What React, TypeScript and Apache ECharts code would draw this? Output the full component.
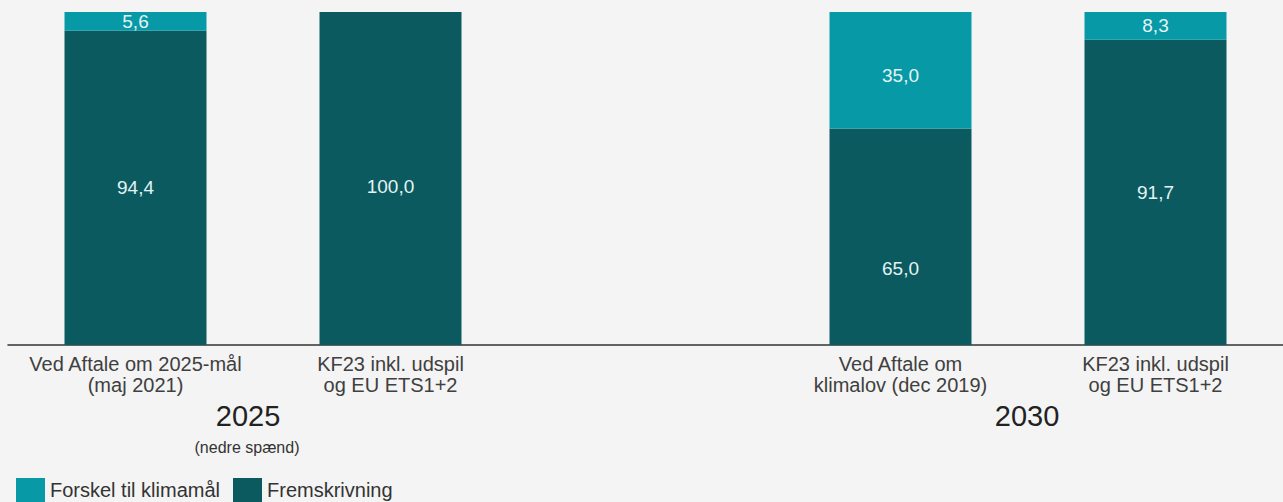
import React, { useEffect, useRef } from "react";
import * as echarts from "echarts";

const categories = [
  "Ved Aftale om 2025-mål\n(maj 2021)",
  "KF23 inkl. udspil\nog EU ETS1+2",
  "",
  "Ved Aftale om\nklimalov (dec 2019)",
  "KF23 inkl. udspil\nog EU ETS1+2",
];
const fremskrivning: (number | null)[] = [94.4, 100.0, null, 65.0, 91.7];
const forskel: (number | null)[] = [5.6, null, null, 35.0, 8.3];
const seriesNames = ["Forskel til klimamål", "Fremskrivning"];
const groupLabels = ["2025", "2030"];
const groupSub = "(nedre spænd)";

const LIGHT = "#0899a6";
const DARK = "#0b5a60";
const FONT = "Liberation Sans, Arial, sans-serif";

const fmt = (v: number) => v.toFixed(1).replace(".", ",");

export default function App() {
  const ref = useRef<HTMLDivElement>(null);
  useEffect(() => {
    if (!ref.current) return;
    const chart = echarts.init(ref.current, null, { renderer: "svg" });
    const labelStyle = {
      show: true,
      position: "inside",
      color: "#e4f3f3",
      fontSize: 19,
      fontFamily: FONT,
      formatter: (p: any) => fmt(p.value),
    };
    const darkOffsets: Record<number, number[]> = { 1: [0, 8], 3: [0, 32] };
    const lightOffsets: Record<number, number[]> = { 3: [0, 5] };
    chart.setOption({
      animation: false,
      backgroundColor: "#f4f4f4",
      grid: { left: 8, right: 0, top: 12, bottom: 157, containLabel: false },
      legend: {
        data: seriesNames,
        left: 16,
        top: 478,
        padding: 0,
        itemWidth: 29,
        itemHeight: 24,
        itemGap: 13,
        icon: "rect",
        textStyle: {
          fontSize: 20,
          color: "#333333",
          fontFamily: FONT,
        },
      },
      xAxis: {
        type: "category",
        data: categories,
        axisLine: { show: true, lineStyle: { color: "#333333", width: 1.5 } },
        axisTick: { show: false },
        axisLabel: {
          interval: 0,
          color: "#404040",
          fontSize: 20,
          lineHeight: 21,
          margin: 8,
          fontFamily: FONT,
        },
      },
      yAxis: {
        type: "value",
        min: 0,
        max: 100,
        show: false,
        splitLine: { show: false },
      },
      series: [
        {
          name: "Fremskrivning",
          type: "bar",
          stack: "total",
          barWidth: 142,
          itemStyle: { color: DARK },
          label: labelStyle,
          data: fremskrivning.map((v, i) =>
            darkOffsets[i] ? { value: v, label: { offset: darkOffsets[i] } } : v
          ),
        },
        {
          name: "Forskel til klimamål",
          type: "bar",
          stack: "total",
          barWidth: 142,
          itemStyle: { color: LIGHT },
          label: labelStyle,
          data: forskel.map((v, i) =>
            lightOffsets[i] ? { value: v, label: { offset: lightOffsets[i] } } : v
          ),
        },
      ],
      graphic: [
        {
          type: "text",
          x: 248,
          y: 401,
          style: {
            text: groupLabels[0],
            fontSize: 29,
            fill: "#222222",
            align: "center",
            fontFamily: FONT,
          },
        },
        {
          type: "text",
          x: 247,
          y: 439,
          style: {
            text: groupSub,
            fontSize: 16,
            fill: "#333333",
            align: "center",
            fontFamily: FONT,
          },
        },
        {
          type: "text",
          x: 1027,
          y: 401,
          style: {
            text: groupLabels[1],
            fontSize: 29,
            fill: "#222222",
            align: "center",
            fontFamily: FONT,
          },
        },
      ],
    });
    return () => chart.dispose();
  }, []);
  return (
    <div
      ref={ref}
      style={{ position: "absolute", left: 0, top: 0, width: 1283, height: 502 }}
    />
  );
}
